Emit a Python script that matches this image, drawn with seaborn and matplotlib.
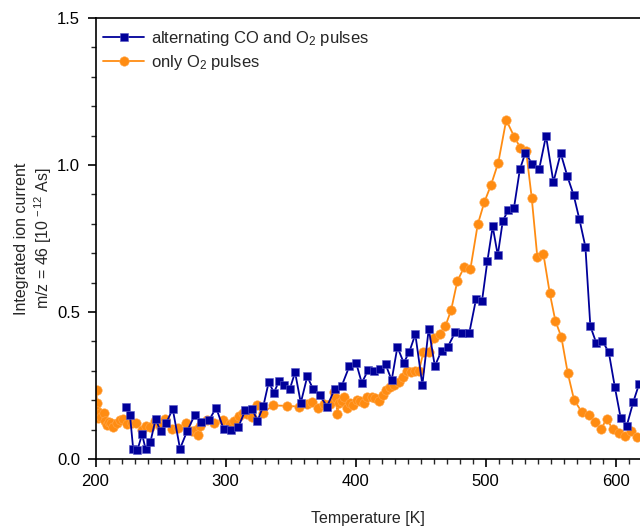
import numpy as np
import pandas as pd
import matplotlib
matplotlib.use("Agg")
import matplotlib.pyplot as plt
from matplotlib.ticker import MultipleLocator
import seaborn as sns

# alternating CO and O2 pulses
temp_alt = [223.8, 226.5, 229.0, 232.3, 235.8, 238.5, 242.3, 246.2, 250.0, 254.2,
            259.4, 265.0, 270.5, 276.2, 281.3, 287.3, 292.8, 298.5, 304.6, 309.8,
            315.2, 320.5, 324.6, 329.1, 333.2, 337.3, 341.3, 345.2, 349.4, 353.5,
            357.9, 362.9, 367.3, 372.5, 378.1, 384.0, 389.4, 395.2, 400.4, 404.8,
            409.8, 414.2, 418.8, 423.1, 427.8, 432.2, 437.1, 441.4, 446.0, 451.4,
            456.3, 461.0, 466.2, 471.0, 476.8, 482.2, 487.5, 492.7, 497.3, 501.4,
            505.5, 509.4, 513.3, 517.5, 521.9, 526.4, 530.6, 536.0, 541.2, 546.5,
            552.2, 557.8, 562.9, 567.8, 572.2, 576.8, 580.6, 585.2, 589.8, 594.8,
            599.4, 604.0, 608.6, 613.7, 618.1]
ion_alt = [0.176, 0.149, 0.034, 0.031, 0.084, 0.035, 0.059, 0.135, 0.096, 0.121,
           0.170, 0.035, 0.095, 0.148, 0.127, 0.132, 0.174, 0.102, 0.100, 0.108,
           0.166, 0.170, 0.130, 0.180, 0.261, 0.226, 0.267, 0.252, 0.237, 0.295,
           0.191, 0.281, 0.238, 0.217, 0.178, 0.239, 0.249, 0.315, 0.328, 0.259,
           0.303, 0.300, 0.306, 0.322, 0.268, 0.381, 0.327, 0.365, 0.424, 0.252,
           0.443, 0.316, 0.369, 0.382, 0.432, 0.428, 0.429, 0.544, 0.538, 0.673,
           0.791, 0.693, 0.811, 0.846, 0.855, 0.985, 1.041, 1.003, 0.985, 1.099,
           0.942, 1.040, 0.962, 0.897, 0.815, 0.722, 0.452, 0.394, 0.402, 0.363,
           0.246, 0.138, 0.113, 0.195, 0.255]

# only O2 pulses
temp_o2 = [200.8, 201.0, 201.5, 202.3, 203.5, 204.6, 206.2, 207.3, 208.8, 210.2,
           211.9, 213.8, 216.2, 218.5, 220.8, 224.4, 227.7, 231.5, 235.4, 238.8,
           242.1, 245.9, 249.8, 253.6, 258.5, 263.6, 269.6, 274.1, 277.1, 278.5,
           280.2, 285.6, 291.5, 297.8, 303.6, 306.9, 310.0, 313.2, 316.4, 320.0,
           324.6, 329.2, 336.3, 347.5, 356.3, 362.5, 366.7, 370.9, 375.9, 380.6,
           383.6, 385.0, 386.0, 387.5, 389.4, 391.4, 393.7, 395.8, 398.3, 400.9,
           403.5, 406.5, 409.1, 412.5, 415.0, 418.3, 420.9, 423.5, 426.5, 429.8,
           433.2, 436.8, 439.4, 442.5, 445.8, 448.8, 452.2, 456.3, 460.4, 465.0,
           469.1, 473.5, 478.3, 483.5, 488.3, 494.0, 499.1, 504.2, 509.8, 515.9,
           522.1, 526.7, 531.2, 535.5, 539.8, 544.5, 549.4, 553.7, 558.3, 563.2,
           568.1, 574.0, 579.6, 584.5, 588.8, 593.2, 597.8, 602.5, 607.3, 612.2,
           616.8]
ion_o2 = [0.235, 0.190, 0.162, 0.139, 0.156, 0.143, 0.155, 0.128, 0.117, 0.126,
          0.122, 0.109, 0.121, 0.132, 0.135, 0.118, 0.123, 0.121, 0.099, 0.112,
          0.110, 0.130, 0.113, 0.135, 0.101, 0.104, 0.124, 0.095, 0.099, 0.083,
          0.112, 0.134, 0.123, 0.133, 0.120, 0.129, 0.145, 0.158, 0.154, 0.144,
          0.184, 0.158, 0.182, 0.181, 0.178, 0.187, 0.193, 0.172, 0.187, 0.187,
          0.227, 0.206, 0.153, 0.189, 0.198, 0.210, 0.172, 0.191, 0.184, 0.201,
          0.196, 0.191, 0.212, 0.212, 0.208, 0.198, 0.218, 0.235, 0.244, 0.252,
          0.262, 0.278, 0.299, 0.296, 0.301, 0.300, 0.364, 0.364, 0.411, 0.426,
          0.452, 0.506, 0.605, 0.652, 0.645, 0.798, 0.874, 0.932, 1.008, 1.153,
          1.096, 1.059, 1.048, 0.889, 0.688, 0.697, 0.564, 0.470, 0.415, 0.293,
          0.201, 0.160, 0.151, 0.125, 0.101, 0.137, 0.101, 0.089, 0.077, 0.095,
          0.074]

label_alt = "alternating CO and O$_2$ pulses"
label_o2 = "only O$_2$ pulses"
xlabel = "Temperature [K]"
ylabel = "Integrated ion current\nm/z = 46 [10$^{\\,-12}$ As]"

sns.set_style("ticks")
plt.rcParams['font.family'] = ['Liberation Sans', 'DejaVu Sans']
plt.rcParams['mathtext.fontset'] = 'custom'
plt.rcParams['mathtext.rm'] = 'Liberation Sans'
plt.rcParams['mathtext.it'] = 'Liberation Sans:italic'

blue = '#00009A'
orange = '#FF8C12'

fig = plt.figure(figsize=(6.4, 5.26), dpi=100)
ax = fig.add_axes([95.5/640, 1 - 459/526, 1 - 95.5/640, (459 - 18)/526])

df_alt = pd.DataFrame({'T': temp_alt, 'I': ion_alt})
df_o2 = pd.DataFrame({'T': temp_o2, 'I': ion_o2})

sns.lineplot(data=df_alt, x='T', y='I', ax=ax, sort=False, color=blue, lw=1.3,
             marker='s', markersize=5.8, markeredgecolor='#5a5ac8', markeredgewidth=0.4,
             label=label_alt, zorder=3)
sns.lineplot(data=df_o2, x='T', y='I', ax=ax, sort=False, color=orange, lw=1.3,
             marker='o', markersize=6.8, markeredgecolor='#ffaa50', markeredgewidth=0.4,
             label=label_o2, zorder=2)

ax.set_xlim(200, 618.8)
ax.set_ylim(0, 1.5)
ax.xaxis.set_major_locator(MultipleLocator(100))
ax.xaxis.set_minor_locator(MultipleLocator(10))
ax.yaxis.set_major_locator(MultipleLocator(0.5))
ax.yaxis.set_minor_locator(MultipleLocator(0.1))
ax.yaxis.set_major_formatter(matplotlib.ticker.FormatStrFormatter('%.1f'))
ax.tick_params(which='major', direction='out', length=6, width=1.2, labelsize=12,
               colors='black', pad=5)
ax.tick_params(which='minor', direction='out', length=3.5, width=1.0)
for s in ['left', 'bottom', 'top']:
    ax.spines[s].set_linewidth(1.2)
    ax.spines[s].set_color('black')
ax.spines['right'].set_visible(False)
ax.spines['top'].set_visible(True)

ax.set_xlabel(xlabel, fontsize=11.5, labelpad=16)
ax.set_ylabel(ylabel, fontsize=11.5, labelpad=2, linespacing=1.25)

leg = ax.legend(loc='upper left', frameon=False, fontsize=12, handlelength=2.5,
                handletextpad=0.4, borderaxespad=0.2, labelspacing=0.3,
                bbox_to_anchor=(-0.005, 0.998))

fig.savefig('out.png', dpi=100)
